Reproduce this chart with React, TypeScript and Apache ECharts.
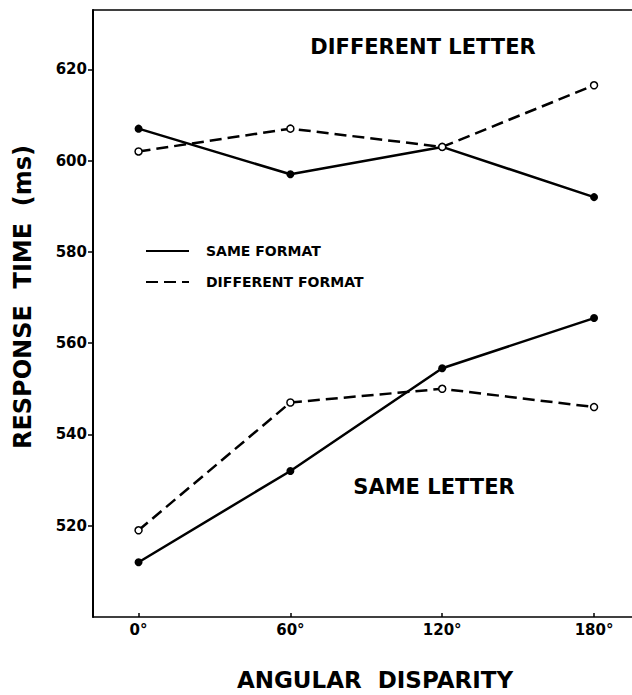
import React, { useEffect, useRef } from "react";
import * as echarts from "echarts";

const angles = [0, 60, 120, 180];
const xTickValues = [0, 60, 120, 180];
const yTickValues = [520, 540, 560, 580, 600, 620];

const diffLetterSameFormat = [607, 597, 603, 592];
const diffLetterDiffFormat = [602, 607, 603, 616.5];
const sameLetterSameFormat = [512, 532, 554.5, 565.5];
const sameLetterDiffFormat = [519, 547, 550, 546];

const legendNames = ["SAME FORMAT", "DIFFERENT FORMAT"];
const groupLabels = ["DIFFERENT LETTER", "SAME LETTER"];
const xTitle = "ANGULAR  DISPARITY";
const yTitle = "RESPONSE  TIME  (ms)";

const FONT = "DejaVu Sans";

function pairs(vals: number[]) {
  return angles.map((a, i) => [a, vals[i]]);
}

export default function App() {
  const ref = useRef<HTMLDivElement>(null);
  useEffect(() => {
    if (!ref.current) return;
    const chart = echarts.init(ref.current, null, { renderer: "svg" });
    const solid = (name: string, data: number[]) => ({
      type: "line",
      name,
      data: pairs(data),
      symbol: "circle",
      symbolSize: 8,
      lineStyle: { color: "#000", width: 2.5, type: "solid" },
      itemStyle: { color: "#000", borderColor: "#000", borderWidth: 0 },
      z: 3,
    });
    const dashed = (name: string, data: number[]) => ({
      type: "line",
      name,
      data: pairs(data),
      symbol: "circle",
      symbolSize: 7,
      lineStyle: { color: "#000", width: 2.5, type: [12, 6] },
      itemStyle: { color: "#fff", borderColor: "#000", borderWidth: 1.5 },
      z: 4,
    });
    chart.setOption({
      animation: false,
      backgroundColor: "#fff",
      grid: { left: 93, top: 10, right: 0, bottom: 78, containLabel: false },
      xAxis: [
        {
          type: "value",
          min: -18,
          max: 195,
          splitLine: { show: false },
          axisLine: { show: true, lineStyle: { color: "#000", width: 1.5 } },
          axisTick: {
            show: true,
            inside: true,
            length: 4,
            customValues: xTickValues,
            lineStyle: { color: "#000", width: 1.5 },
          },
          axisLabel: {
            customValues: xTickValues,
            formatter: (v: number) => v + "°",
            margin: 5,
            color: "#000",
            fontFamily: FONT,
            fontWeight: "bold",
            fontSize: 15,
          },
        },
        {
          type: "value",
          position: "top",
          min: -18,
          max: 195,
          splitLine: { show: false },
          axisLine: { show: true, onZero: false, lineStyle: { color: "#000", width: 1.5 } },
          axisTick: { show: false },
          axisLabel: { show: false },
        },
      ],
      yAxis: {
        type: "value",
        min: 500,
        max: 633,
        splitLine: { show: false },
        axisLine: { show: true, onZero: false, lineStyle: { color: "#000", width: 2 } },
        axisTick: {
          show: true,
          length: 5,
          customValues: yTickValues,
          lineStyle: { color: "#000", width: 1.5 },
        },
        axisLabel: {
          customValues: yTickValues,
          margin: 6,
          color: "#000",
          fontFamily: FONT,
          fontWeight: "bold",
          fontSize: 15,
        },
      },
      legend: {
        orient: "vertical",
        left: 140,
        top: 239,
        itemWidth: 43,
        itemHeight: 14,
        itemGap: 17,
        data: legendNames,
        itemStyle: { opacity: 0 },
        textStyle: {
          color: "#000",
          fontFamily: FONT,
          fontWeight: "bold",
          fontSize: 14,
          padding: [0, 0, 0, 12],
        },
        selectedMode: false,
      },
      series: [
        solid(legendNames[0], diffLetterSameFormat),
        dashed(legendNames[1], diffLetterDiffFormat),
        solid(legendNames[0], sameLetterSameFormat),
        dashed(legendNames[1], sameLetterDiffFormat),
      ],
      graphic: [
        {
          type: "text",
          x: 423,
          y: 47,
          style: {
            text: groupLabels[0],
            align: "center",
            verticalAlign: "middle",
            fill: "#000",
            font: `bold 21px "${FONT}"`,
          },
        },
        {
          type: "text",
          x: 434,
          y: 487,
          style: {
            text: groupLabels[1],
            align: "center",
            verticalAlign: "middle",
            fill: "#000",
            font: `bold 21px "${FONT}"`,
          },
        },
        {
          type: "text",
          x: 375,
          y: 680,
          style: {
            text: xTitle,
            align: "center",
            verticalAlign: "middle",
            fill: "#000",
            font: `bold 23px "${FONT}"`,
          },
        },
        {
          type: "text",
          x: 23,
          y: 297,
          rotation: Math.PI / 2,
          style: {
            text: yTitle,
            align: "center",
            verticalAlign: "middle",
            fill: "#000",
            font: `bold 24px "${FONT}"`,
          },
        },
      ],
    });
    return () => chart.dispose();
  }, []);
  return (
    <div
      ref={ref}
      style={{ position: "fixed", left: 0, top: 0, width: 632, height: 695, background: "#fff" }}
    />
  );
}
